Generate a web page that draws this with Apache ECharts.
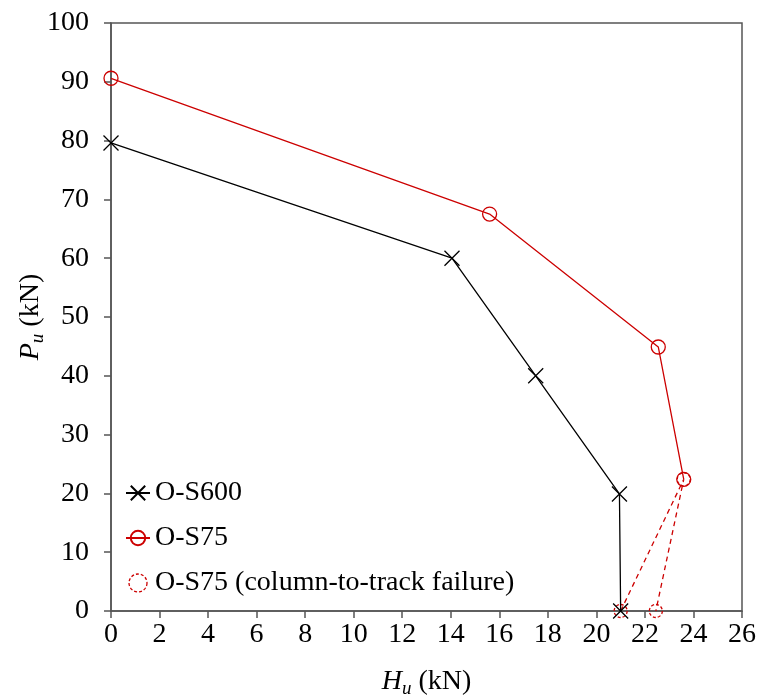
<!DOCTYPE html>
<html>
<head>
<meta charset="utf-8">
<script src="https://cdn.jsdelivr.net/npm/echarts@6/dist/echarts.min.js"></script>
<style>
  html, body { margin: 0; padding: 0; background: #fff; }
  #chart { width: 761px; height: 698px; }
</style>
</head>
<body>
<div id="chart"></div>
<script>
// H_u (kN), P_u (kN)
var s600 = [[0, 79.6], [14.05, 60], [17.5, 40], [20.95, 19.9], [21.0, 0]];
var s75 = [[0, 90.6], [15.6, 67.5], [22.55, 44.9], [23.6, 22.4]];
var s75Fail = [[21.0, 0], [23.6, 22.4], [22.45, 0]];

var RED = '#cc0000',
    FONT = 'Liberation Serif',
    FRAME = '#555';

var chart = echarts.init(document.getElementById('chart'));

var crossPath = 'path://M0,0L10,10M10,0L0,10';

var nameRich = {
  i: { fontFamily: FONT, fontSize: 28, fontStyle: 'italic' },
  s: { fontFamily: FONT, fontSize: 19, fontStyle: 'italic', padding: [13, 0, 0, 0] }
};

var option = {
  animation: false,
  textStyle: { fontFamily: FONT },
  grid: {
    left: 111, right: 19, top: 23, bottom: 87,
    outerBoundsMode: 'none',
    containLabel: false,
    show: true, borderColor: FRAME, borderWidth: 1.5
  },
  legend: {
    orient: 'vertical',
    left: 125,
    top: 477,
    padding: 0,
    itemWidth: 24,
    itemHeight: 18,
    itemGap: 13,
    textStyle: { fontFamily: FONT, fontSize: 28, color: '#000', lineHeight: 32 },
    data: [
      { name: 'O-S600' },
      { name: 'O-S75' },
      {
        name: 'O-S75 (column-to-track failure)',
        icon: 'circle',
        itemStyle: { color: 'transparent', borderColor: RED, borderWidth: 1.3, borderType: [3, 2] }
      }
    ]
  },
  xAxis: {
    type: 'value',
    min: 0, max: 26, interval: 2,
    name: '{i|H}{s|u} (kN)',
    nameLocation: 'middle',
    nameGap: 55,
    nameMoveOverlap: false,
    nameTextStyle: { fontFamily: FONT, fontSize: 28, color: '#000', rich: nameRich },
    axisLine: { lineStyle: { color: FRAME, width: 1.5 } },
    axisTick: { inside: false, length: 7, lineStyle: { color: FRAME, width: 1.5 } },
    axisLabel: { fontFamily: FONT, fontSize: 28, color: '#000', margin: 10 },
    splitLine: { show: false }
  },
  yAxis: {
    type: 'value',
    min: 0, max: 100, interval: 10,
    name: '{i|P}{s|u} (kN)',
    nameLocation: 'middle',
    nameGap: 64,
    nameMoveOverlap: false,
    nameRotate: 90,
    nameTextStyle: { fontFamily: FONT, fontSize: 28, color: '#000', rich: nameRich },
    axisLine: { lineStyle: { color: FRAME, width: 1.5 } },
    axisTick: { inside: false, length: 7, lineStyle: { color: FRAME, width: 1.5 } },
    axisLabel: { fontFamily: FONT, fontSize: 28, color: '#000', margin: 22 },
    splitLine: { show: false }
  },
  series: [
    {
      name: 'O-S75 (column-to-track failure)',
      type: 'line',
      data: s75Fail,
      symbol: 'circle',
      symbolSize: 13,
      lineStyle: { color: RED, width: 1.3, type: [5, 4] },
      itemStyle: { color: 'transparent', borderColor: RED, borderWidth: 1.3, borderType: [3, 2] },
      z: 1
    },
    {
      name: 'O-S600',
      type: 'line',
      data: s600,
      symbol: crossPath,
      symbolSize: 15,
      lineStyle: { color: '#000', width: 1.3 },
      itemStyle: { color: '#000', borderColor: '#000', borderWidth: 1.3 },
      z: 3
    },
    {
      name: 'O-S75',
      type: 'line',
      data: s75,
      symbol: 'circle',
      symbolSize: 14,
      lineStyle: { color: RED, width: 1.3 },
      itemStyle: { color: 'transparent', borderColor: RED, borderWidth: 1.3 },
      z: 2
    }
  ]
};

chart.setOption(option);
</script>
</body>
</html>
